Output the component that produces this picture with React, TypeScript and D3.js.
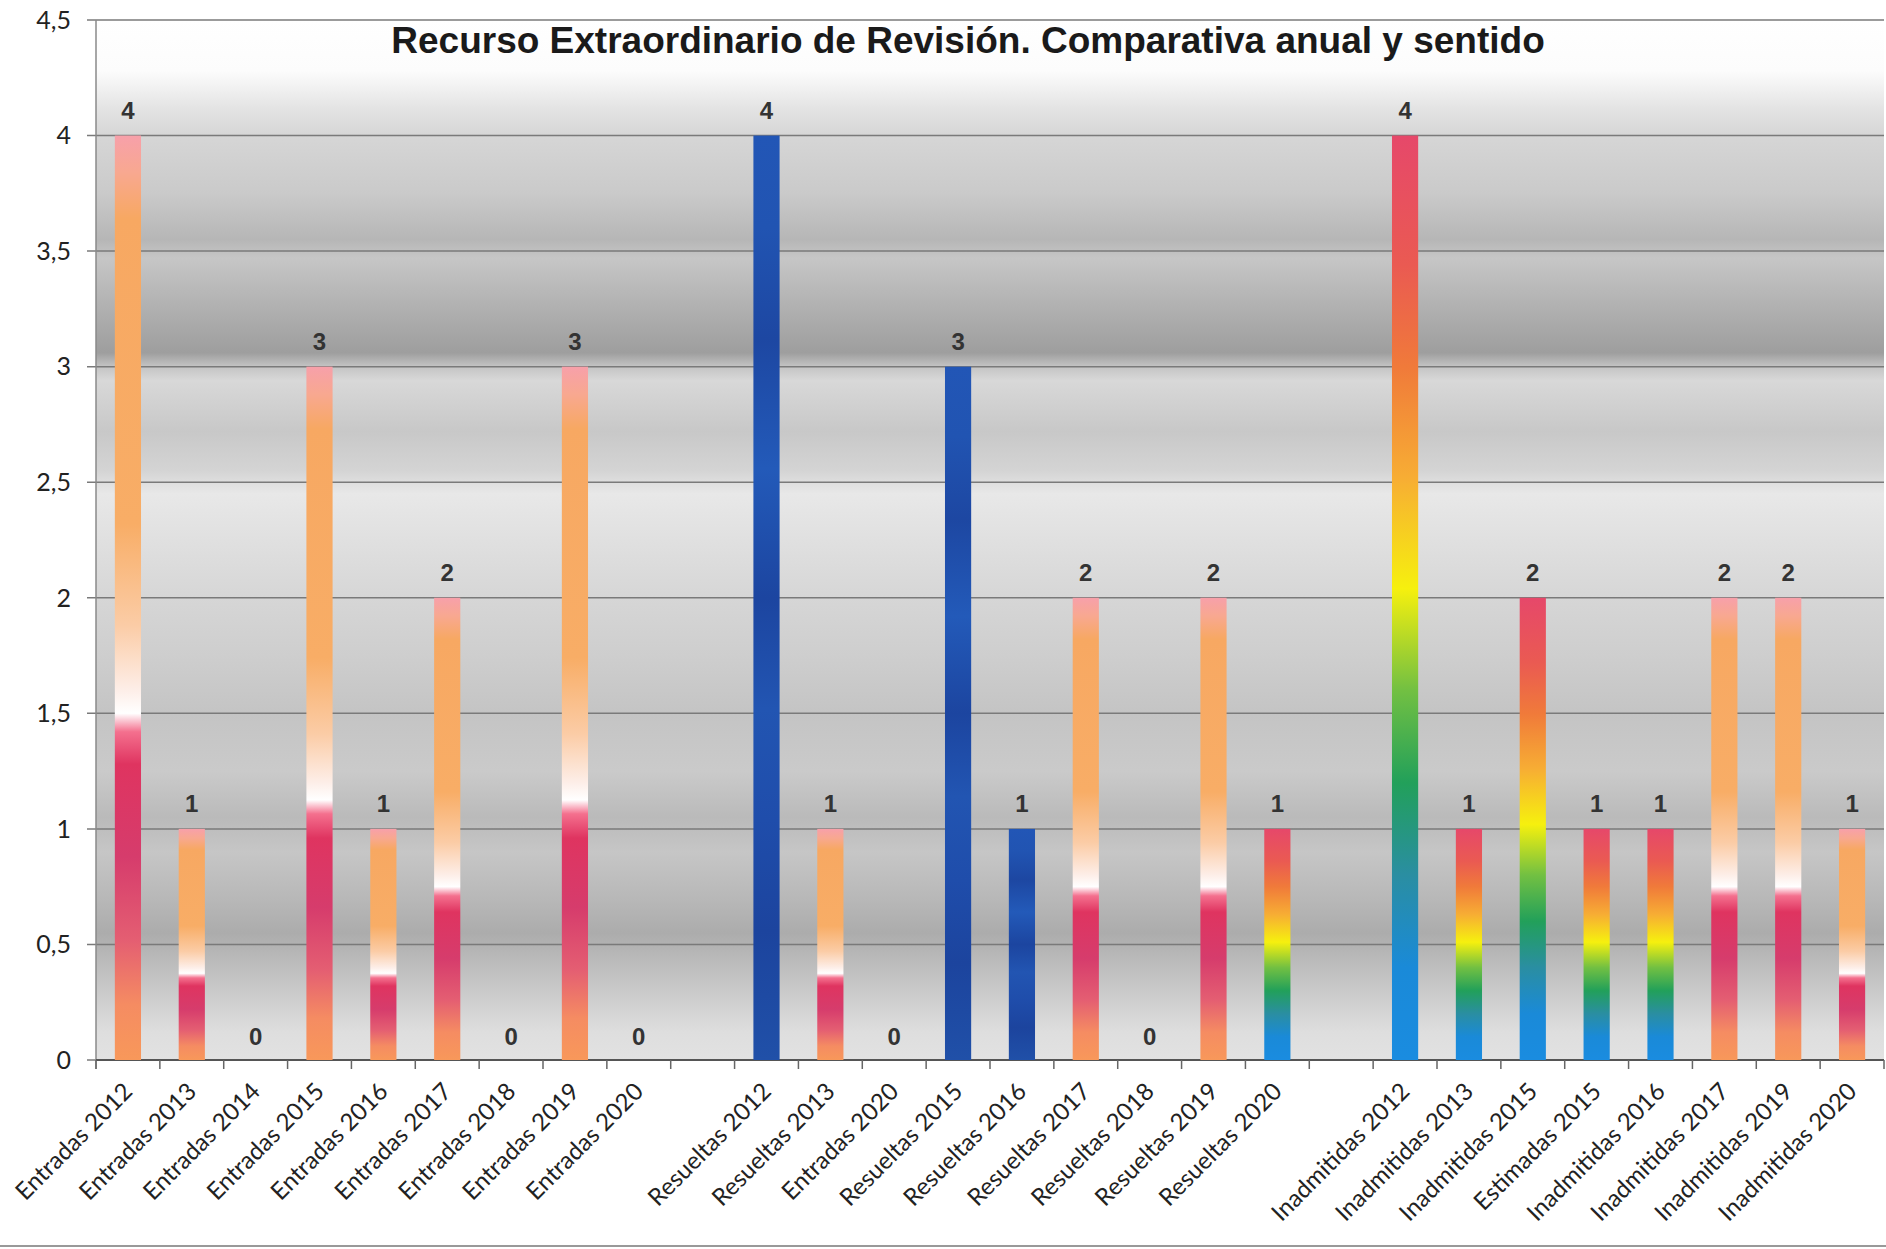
import React from "react";
import * as d3 from "d3";

const categories = [
  "Entradas 2012", "Entradas 2013", "Entradas 2014", "Entradas 2015", "Entradas 2016",
  "Entradas 2017", "Entradas 2018", "Entradas 2019", "Entradas 2020", "",
  "Resueltas 2012", "Resueltas 2013", "Entradas 2020", "Resueltas 2015", "Resueltas 2016",
  "Resueltas 2017", "Resueltas 2018", "Resueltas 2019", "Resueltas 2020", "",
  "Inadmitidas 2012", "Inadmitidas 2013", "Inadmitidas 2015", "Estimadas 2015",
  "Inadmitidas 2016", "Inadmitidas 2017", "Inadmitidas 2019", "Inadmitidas 2020",
];

const values: (number | null)[] = [
  4, 1, 0, 3, 1, 2, 0, 3, 0, null,
  4, 1, 0, 3, 1, 2, 0, 2, 1, null,
  4, 1, 2, 1, 1, 2, 2, 1,
];

const fills: (string | null)[] = [
  "peach", "peach", "peach", "peach", "peach", "peach", "peach", "peach", "peach", null,
  "sapphire", "peach", "peach", "sapphire", "sapphire", "peach", "peach", "peach", "rainbow", null,
  "rainbow", "rainbow", "rainbow", "rainbow", "rainbow", "peach", "peach", "peach",
];

const yTicks = [0, 0.5, 1, 1.5, 2, 2.5, 3, 3.5, 4, 4.5];

const title = "Recurso Extraordinario de Revisión. Comparativa anual y sentido";

// gradient presets: [offset, color]
const peachStops: [number, string][] = [
  [0, "#f7a0aa"], [0.04, "#f8a890"], [0.09, "#f7a862"], [0.42, "#f8ad66"],
  [0.53, "#fbcca6"], [0.6, "#fdeee8"], [0.625, "#ffffff"], [0.645, "#f4708e"],
  [0.68, "#df3460"], [0.78, "#d63c6c"], [0.87, "#e45e72"], [0.94, "#f58c62"], [1, "#f8985a"],
];
const rainbowStops: [number, string][] = [
  [0, "#e6486a"], [0.14, "#ea5a52"], [0.25, "#f07a3a"], [0.37, "#f7ad34"],
  [0.49, "#f6f00e"], [0.6, "#72c042"], [0.7, "#22a05a"], [0.8, "#2a8ea2"],
  [0.9, "#1a8ad8"], [1, "#1a8ce0"],
];
const sapphireStops: [number, string][] = [
  [0, "#2256b6"], [0.1, "#2154b2"], [0.22, "#1d47a2"], [0.36, "#235ab9"],
  [0.5, "#1c45a0"], [0.62, "#2255b2"], [0.74, "#1f4dab"], [0.86, "#1c449e"], [1, "#2050a8"],
];

// background (value, gray level)
const bgStops: [number, number][] = [
  [4.5, 255], [4.28, 252], [4.12, 228], [4.0, 214], [3.75, 202], [3.55, 182],
  [3.47, 198], [3.25, 176], [3.06, 158], [3.0, 196], [2.94, 216], [2.72, 200],
  [2.55, 212], [2.45, 232], [2.2, 222], [2.0, 214], [1.75, 206], [1.5, 196],
  [1.25, 202], [1.05, 186], [0.9, 198], [0.7, 184], [0.55, 172], [0.35, 196],
  [0.12, 222], [0, 226],
];

const W = 1886;
const H = 1249;
const left = 96;
const right = 1884;
const top = 20;
const bottom = 1060;

export default function App() {
  const x = d3.scaleBand<number>().domain(d3.range(categories.length)).range([left, right]).paddingInner(0).paddingOuter(0);
  const y = d3.scaleLinear().domain([0, 4.5]).range([bottom, top]);
  const barW = x.step() * 0.41;
  const fmt = (v: number) => String(v).replace(".", ",");
  const gradMap: Record<string, [number, string][]> = { peach: peachStops, rainbow: rainbowStops, sapphire: sapphireStops };
  const boundaries = d3.range(categories.length + 1).map((i) => left + i * x.step());

  return (
    <svg width={W} height={H} style={{ position: "absolute", left: 0, top: 0, background: "#fff" }}>
      <defs>
        {Object.entries(gradMap).map(([k, stops]) => (
          <linearGradient key={k} id={`g-${k}`} x1="0" y1="0" x2="0" y2="1">
            {stops.map(([o, c], i) => (
              <stop key={i} offset={o} stopColor={c} />
            ))}
          </linearGradient>
        ))}
        <linearGradient id="bg" gradientUnits="userSpaceOnUse" x1="0" y1={y(4.5)} x2="0" y2={y(0)}>
          {bgStops.map(([v, g], i) => (
            <stop key={i} offset={(y(v) - y(4.5)) / (y(0) - y(4.5))} stopColor={d3.rgb(g, g, g).formatHex()} />
          ))}
        </linearGradient>
      </defs>
      <rect x={0} y={0} width={W} height={H} fill="#fff" />
      <rect x={left} y={top} width={right - left} height={bottom - top} fill="url(#bg)" />

      {yTicks.map((t) => (
        <g key={t}>
          <line x1={left - 9} x2={right} y1={y(t)} y2={y(t)} stroke="#7a7a7a" strokeWidth={1.5} />
          <text x={left - 25} y={y(t)} dy="0.35em" textAnchor="end" fontFamily="Lato, 'Open Sans', sans-serif" fontSize={25} fill="#222">
            {fmt(t)}
          </text>
        </g>
      ))}

      <line x1={left} x2={left} y1={top} y2={bottom + 9} stroke="#8a8a8a" strokeWidth={1.5} />
      <line x1={left} x2={right} y1={bottom} y2={bottom} stroke="#555" strokeWidth={2} />
      {boundaries.map((bx, i) => (
        <line key={i} x1={bx} x2={bx} y1={bottom} y2={bottom + 9} stroke="#666" strokeWidth={1.5} />
      ))}

      {values.map((v, i) => {
        if (v === null) return null;
        const cx = (x(i) as number) + x.bandwidth() / 2;
        const f = fills[i];
        return (
          <g key={i}>
            {v > 0 && f && (
              <rect x={cx - barW / 2} y={y(v)} width={barW} height={y(0) - y(v)} fill={`url(#g-${f})`} />
            )}
            <text x={cx} y={y(v) - (v > 0 ? 17 : 15)} textAnchor="middle" fontFamily="'Liberation Sans', Arial, sans-serif" fontWeight="bold" fontSize={24} fill="#333">
              {v}
            </text>
          </g>
        );
      })}

      {categories.map((c, i) => {
        const cx = (x(i) as number) + x.bandwidth() / 2;
        return (
          <text key={i} transform={`translate(${cx + 6},${bottom + 33}) rotate(-45)`} textAnchor="end" fontFamily="Lato, 'Open Sans', sans-serif" fontSize={24} fill="#222">
            {c}
          </text>
        );
      })}

      <text x={968} y={53} textAnchor="middle" fontFamily="'Liberation Sans', Arial, sans-serif" fontWeight="bold" fontSize={37} fill="#1a1a1a">
        {title}
      </text>

      <line x1={0} x2={W} y1={1246} y2={1246} stroke="#999" strokeWidth={2} />
    </svg>
  );
}
